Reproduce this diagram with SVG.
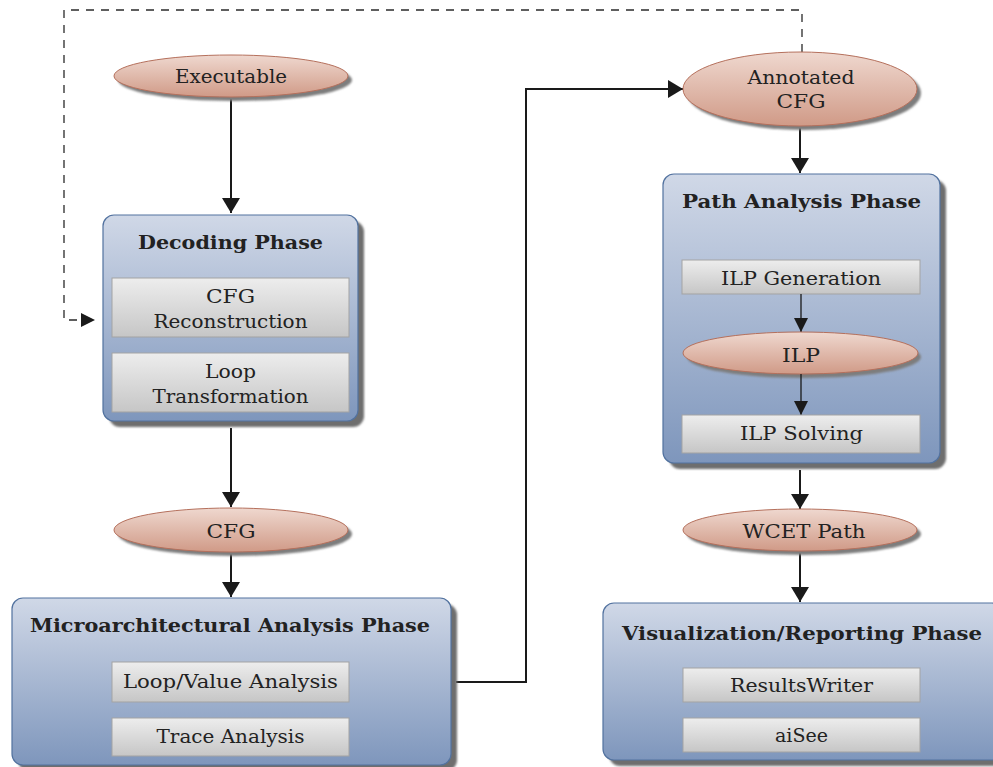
<svg xmlns="http://www.w3.org/2000/svg" width="993" height="767" viewBox="0 0 993 767">
<defs>
<linearGradient id="gEll" x1="0" y1="0" x2="0" y2="1"><stop offset="0" stop-color="#efd8cf"/><stop offset="1" stop-color="#d09a87"/></linearGradient>
<linearGradient id="gBox" x1="0" y1="0" x2="0" y2="1"><stop offset="0" stop-color="#d0d8e7"/><stop offset="1" stop-color="#7e96bc"/></linearGradient>
<linearGradient id="gSub" x1="0" y1="0" x2="0" y2="1"><stop offset="0" stop-color="#ededed"/><stop offset="1" stop-color="#c6c6c6"/></linearGradient>
<filter id="blur" x="-10%" y="-10%" width="120%" height="120%"><feGaussianBlur stdDeviation="1.2"/></filter>
<marker id="ah" viewBox="0 0 15 18" refX="15" refY="9" markerWidth="15" markerHeight="18" markerUnits="userSpaceOnUse" orient="auto"><path d="M0,0 L15,9 L0,18 z" fill="#1a1a1a"/></marker>
<marker id="ahs" viewBox="0 0 14 14" refX="14" refY="7" markerWidth="14" markerHeight="14" markerUnits="userSpaceOnUse" orient="auto"><path d="M0,0 L14,7 L0,14 z" fill="#1a1a1a"/></marker>
<style>
.ell{fill:url(#gEll);stroke:#b5705c;stroke-width:1}
.esh{fill:#7d7d7d;filter:url(#blur)}
.box{fill:url(#gBox);stroke:#52729f;stroke-width:1.2}
.bsh{fill:#6e6e6e;filter:url(#blur)}
.sub{fill:url(#gSub);stroke:#a3a3a3;stroke-width:1}
.t{font-family:"DejaVu Serif","Liberation Serif",serif;font-size:18.5px;fill:#222;text-anchor:middle}
.h{font-family:"DejaVu Serif","Liberation Serif",serif;font-size:18px;font-weight:bold;fill:#222;text-anchor:middle}
.c{fill:none;stroke:#1a1a1a;stroke-width:2}
.cs{fill:none;stroke:#1a1a1a;stroke-width:1.3}
.d{fill:none;stroke:#2a2a2a;stroke-width:1.3;stroke-dasharray:8 7}
</style>
</defs>

<g id="connectors">
<path class="d" d="M802,52 V10 H64 V320 H81"/>
<path d="M81,313 L95,320 L81,327 z" fill="#1a1a1a"/>
<path class="c" d="M231,97 V213" marker-end="url(#ah)"/>
<path class="c" d="M231,428 V507" marker-end="url(#ah)"/>
<path class="c" d="M231,552 V597" marker-end="url(#ah)"/>
<path class="c" d="M456,682 H526 V89 H683" marker-end="url(#ah)"/>
<path class="c" d="M800,127 V173" marker-end="url(#ah)"/>
<path class="c" d="M800,470 V509" marker-end="url(#ah)"/>
<path class="c" d="M800,552 V602" marker-end="url(#ah)"/>
</g>

<g id="executable">
<ellipse class="esh" cx="235" cy="80" rx="117" ry="21"/>
<ellipse class="ell" cx="231" cy="76" rx="117" ry="21"/>
<text class="t" x="231" y="83" textLength="112" lengthAdjust="spacingAndGlyphs">Executable</text>
</g>

<g id="decoding">
<rect class="bsh" x="109" y="221" width="255" height="206" rx="11"/>
<rect class="box" x="103" y="215" width="255" height="206" rx="11"/>
<text class="h" x="230.5" y="249" textLength="185" lengthAdjust="spacingAndGlyphs">Decoding Phase</text>
<g id="cfg-reconstruction">
<rect class="sub" x="112" y="278" width="237" height="59"/>
<text class="t" x="230.5" y="303" textLength="49" lengthAdjust="spacingAndGlyphs">CFG</text>
<text class="t" x="230.5" y="328" textLength="154" lengthAdjust="spacingAndGlyphs">Reconstruction</text>
</g>
<g id="loop-transformation">
<rect class="sub" x="112" y="353" width="237" height="59"/>
<text class="t" x="230.5" y="378" textLength="51" lengthAdjust="spacingAndGlyphs">Loop</text>
<text class="t" x="230.5" y="403" textLength="156" lengthAdjust="spacingAndGlyphs">Transformation</text>
</g>
</g>

<g id="cfg">
<ellipse class="esh" cx="235" cy="534" rx="117" ry="22"/>
<ellipse class="ell" cx="231" cy="530" rx="117" ry="22"/>
<text class="t" x="231" y="538" textLength="49" lengthAdjust="spacingAndGlyphs">CFG</text>
</g>

<g id="micro">
<rect class="bsh" x="18" y="604" width="439" height="167" rx="11"/>
<rect class="box" x="12" y="598" width="439" height="167" rx="11"/>
<text class="h" x="230" y="632" textLength="400" lengthAdjust="spacingAndGlyphs">Microarchitectural Analysis Phase</text>
<g id="loop-value">
<rect class="sub" x="112" y="662" width="237" height="40"/>
<text class="t" x="230.5" y="688" textLength="215" lengthAdjust="spacingAndGlyphs">Loop/Value Analysis</text>
</g>
<g id="trace">
<rect class="sub" x="112" y="718" width="237" height="38"/>
<text class="t" x="230.5" y="743" textLength="148" lengthAdjust="spacingAndGlyphs">Trace Analysis</text>
</g>
</g>

<g id="annotated-cfg">
<ellipse class="esh" cx="804" cy="93" rx="117" ry="37"/>
<ellipse class="ell" cx="800" cy="89" rx="117" ry="37"/>
<text class="t" x="801" y="84" textLength="107" lengthAdjust="spacingAndGlyphs">Annotated</text>
<text class="t" x="801" y="108" textLength="49" lengthAdjust="spacingAndGlyphs">CFG</text>
</g>

<g id="path-analysis">
<rect class="bsh" x="669" y="180" width="277" height="289" rx="11"/>
<rect class="box" x="663" y="174" width="277" height="289" rx="11"/>
<text class="h" x="801.5" y="208" textLength="239" lengthAdjust="spacingAndGlyphs">Path Analysis Phase</text>
<g id="ilp-generation">
<rect class="sub" x="682" y="260" width="238" height="34"/>
<text class="t" x="801" y="285" textLength="160" lengthAdjust="spacingAndGlyphs">ILP Generation</text>
</g>
<path class="cs" d="M801,294 V332" marker-end="url(#ahs)"/>
<g id="ilp">
<ellipse class="esh" cx="804" cy="357" rx="117" ry="21"/>
<ellipse class="ell" cx="800.5" cy="353" rx="117.5" ry="21"/>
<text class="t" x="801" y="362" textLength="38" lengthAdjust="spacingAndGlyphs">ILP</text>
</g>
<path class="cs" d="M801,374 V415" marker-end="url(#ahs)"/>
<g id="ilp-solving">
<rect class="sub" x="682" y="415" width="238" height="38"/>
<text class="t" x="801.5" y="440" textLength="123" lengthAdjust="spacingAndGlyphs">ILP Solving</text>
</g>
</g>

<g id="wcet-path">
<ellipse class="esh" cx="804" cy="534" rx="117" ry="21"/>
<ellipse class="ell" cx="800" cy="530" rx="117" ry="21"/>
<text class="t" x="804" y="538" textLength="123" lengthAdjust="spacingAndGlyphs">WCET Path</text>
</g>

<g id="visualization">
<rect class="bsh" x="609" y="609" width="400" height="157" rx="11"/>
<rect class="box" x="603" y="603" width="400" height="157" rx="11"/>
<text class="h" x="802" y="640" textLength="360" lengthAdjust="spacingAndGlyphs">Visualization/Reporting Phase</text>
<g id="results-writer">
<rect class="sub" x="683" y="668" width="237" height="34"/>
<text class="t" x="801.5" y="692" textLength="143" lengthAdjust="spacingAndGlyphs">ResultsWriter</text>
</g>
<g id="aisee">
<rect class="sub" x="683" y="718" width="237" height="34"/>
<text class="t" x="801.5" y="742" textLength="53" lengthAdjust="spacingAndGlyphs">aiSee</text>
</g>
</g>
</svg>
